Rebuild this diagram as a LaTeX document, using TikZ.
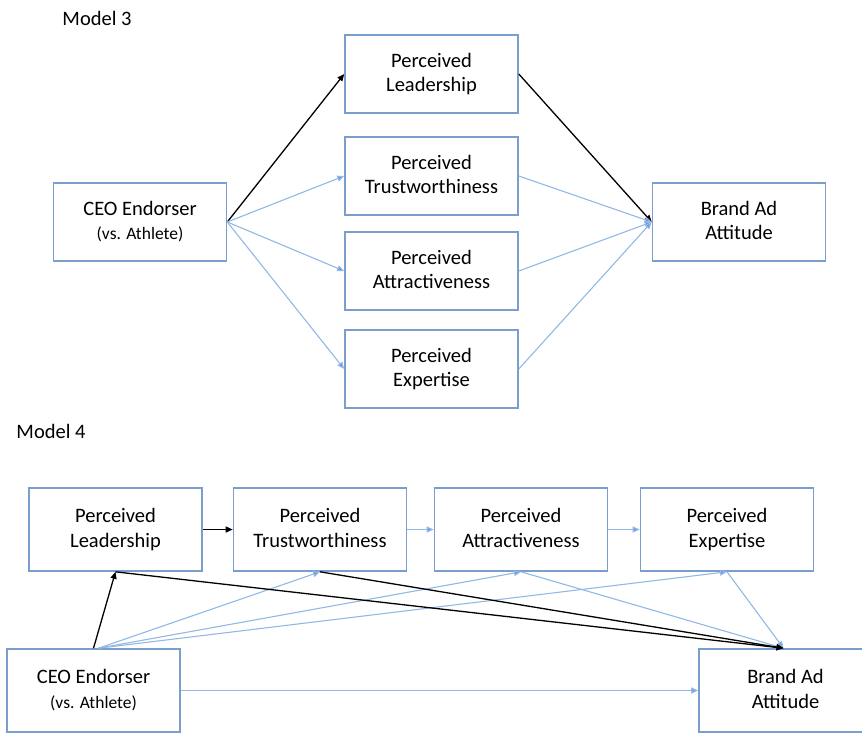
\documentclass[tikz,border=0pt]{standalone}
\usepackage{fontspec}
\setmainfont{Carlito}
\usetikzlibrary{arrows.meta}

\definecolor{boxblue}{RGB}{122,158,206}
\definecolor{linkblue}{RGB}{146,184,228}

\tikzset{
  var/.style={draw=boxblue,line width=1.6pt,minimum width=173pt,minimum height=78pt,
    align=center,font=\fontsize{20.5}{24.5}\selectfont,inner sep=0pt,
    execute at begin node=\rule{0pt}{23pt},execute at end node=\rule[-3pt]{0pt}{3pt}},
  tall/.style={minimum height=83pt},
  strong/.style={draw=black,line width=1.3pt,-{Triangle[length=7pt,width=6pt]}},
  weak/.style={draw=linkblue,line width=1.1pt,-{Triangle[length=7pt,width=6pt,fill=linkblue!80!blue]}}
}

\begin{document}
\begin{tikzpicture}[x=1pt,y=-1pt]

        \useasboundingbox (0,0) rectangle (862,732);
        \clip (0,0) rectangle (862,732);

        % model 3
        \node[font=\fontsize{20.5}{24.5}\selectfont] (m3) at (97,18) {Model 3};
        \begin{scope}[every node/.style={var}]
          \node (lead3)  at (431.5,74)  {Perceived\\Leadership};
          \node (trust3) at (431.5,176) {Perceived\\Trustworthiness};
          \node (attr3)  at (431.5,271) {Perceived\\Attractiveness};
          \node (exp3)   at (431.5,369) {Perceived\\Expertise};
          \node (ceo3)   at (140,222)   {CEO Endorser\\{\fontsize{17.5}{20}\selectfont (vs. Athlete)}};
          \node (brand3) at (739,222)   {Brand Ad\\Attitude};
        \end{scope}

        \path (ceo3.east)   edge[strong] (lead3.west);
        \path (ceo3.east)   edge[weak]   (trust3.west);
        \path (ceo3.east)   edge[weak]   (attr3.west);
        \path (ceo3.east)   edge[weak]   (exp3.west);
        \path (lead3.east)  edge[strong] (brand3.west);
        \path (trust3.east) edge[weak]   (brand3.west);
        \path (attr3.east)  edge[weak]   (brand3.west);
        \path (exp3.east)   edge[weak]   (brand3.west);

        % model 4
        \node[font=\fontsize{20.5}{24.5}\selectfont] (m4) at (51,431) {Model 4};
        \begin{scope}[every node/.style={var,tall}]
          \node (lead4)  at (115.5,529.5) {Perceived\\Leadership};
          \node (trust4) at (320,529.5)   {Perceived\\Trustworthiness};
          \node (attr4)  at (521,529.5)   {Perceived\\Attractiveness};
          \node (exp4)   at (727,529.5)   {Perceived\\Expertise};
          \node (ceo4)   at (93.5,690.5)  {CEO Endorser\\{\fontsize{17.5}{20}\selectfont (vs. Athlete)}};
          \node (brand4) at (785.5,690.5) {Brand Ad\\Attitude};
        \end{scope}

        \path (lead4)  edge[strong] (trust4);
        \path (trust4) edge[weak]   (attr4);
        \path (attr4)  edge[weak]   (exp4);
        \path (ceo4.north) edge[strong] (lead4.south);
        \path ([xshift=5pt]ceo4.north) edge[weak] (trust4.south);
        \path ([xshift=5pt]ceo4.north) edge[weak] (attr4.south);
        \path ([xshift=5pt]ceo4.north) edge[weak] (exp4.south);
        \path (attr4.south)  edge[weak]   ([xshift=-2pt]brand4.north);
        \path (exp4.south)   edge[weak]   ([xshift=-2pt]brand4.north);
        \path (lead4.south)  edge[strong] ([xshift=-2pt]brand4.north);
        \path (trust4.south) edge[strong] ([xshift=-2pt]brand4.north);
        \path (ceo4.east)    edge[weak]   (brand4.west);

      \end{tikzpicture}
\end{document}
